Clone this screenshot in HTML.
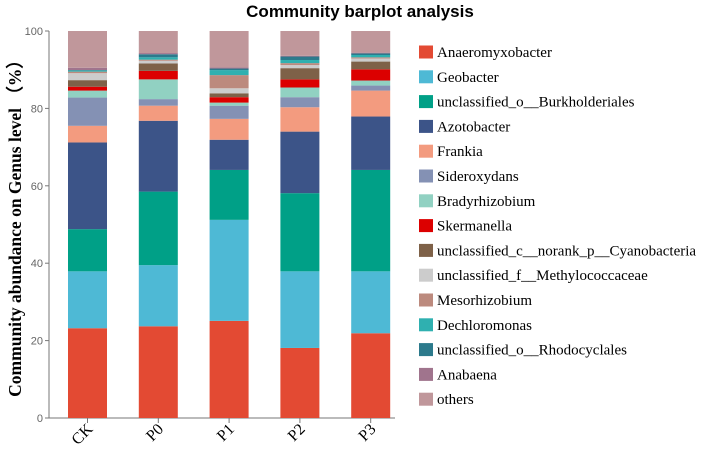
<!DOCTYPE html>
<html><head><meta charset="utf-8"><style>
body{margin:0;background:#fff;width:724px;height:446px;overflow:hidden}
svg text{font-family:"Liberation Serif",serif}
</style></head><body>
<svg id="chart" width="724" height="446" xmlns="http://www.w3.org/2000/svg">
<text x="360" y="17" text-anchor="middle" style="font-family:'Liberation Sans',sans-serif;font-weight:bold;font-size:17px">Community barplot analysis</text>
<text transform="translate(21,224) rotate(-90)" text-anchor="middle" style="font-weight:bold;font-size:17.5px">Community abundance on Genus level （%）</text>
<g id="axes"></g><g id="bars"></g><g id="legend"></g>
</svg>
<script>
const categories=["CK","P0","P1","P2","P3"];
const genera=["Anaeromyxobacter","Geobacter","unclassified_o__Burkholderiales","Azotobacter","Frankia","Sideroxydans","Bradyrhizobium","Skermanella","unclassified_c__norank_p__Cyanobacteria","unclassified_f__Methylococcaceae","Mesorhizobium","Dechloromonas","unclassified_o__Rhodocyclales","Anabaena","others"];
const colors=["#E34A33","#4EB9D5","#00A087","#3C5488","#F39B7F","#8491B4","#91D1C2","#DC0000","#7E6148","#CCCCCC","#BC8A7E","#2FB0B0","#2C7A8C","#A0748D","#C0979B"];
const valCK=[23.2,14.7,10.9,22.4,4.3,7.3,1.8,1.0,1.7,1.8,0.4,0.3,0.1,0.6,9.5];
const valP0=[23.7,15.8,19.0,18.3,3.9,1.7,5.1,2.2,1.9,0.7,0.3,0.6,0.8,0.3,5.7];
const valP1=[25.1,26.1,12.9,7.8,5.4,3.4,0.8,1.4,1.0,1.3,3.4,1.3,0.4,0.3,9.4];
const valP2=[18.1,19.8,20.2,15.9,6.3,2.6,2.5,2.1,2.9,0.8,0.5,0.8,0.9,0.2,6.4];
const valP3=[21.9,16.0,26.2,13.8,6.7,1.3,1.3,2.9,2.0,0.8,0.3,0.6,0.4,0.2,5.6];
const series=[valCK,valP0,valP1,valP2,valP3];
const yTicks=[0,20,40,60,80,100];
const NS="http://www.w3.org/2000/svg";
const y0=418,y1=31;
const yS=v=>y0-(v/100)*(y0-y1);
const xS=i=>68+i*70.8;
const bw=39;
function mk(t,a,p){const e=document.createElementNS(NS,t);for(const k in a)e.setAttribute(k,a[k]);p.appendChild(e);return e;}
const axes=document.getElementById('axes');
const ya=mk('line',{x1:49,y1:y1,x2:49,y2:y0,stroke:'#777','stroke-width':1},axes);


const xa=mk('line',{x1:49,y1:y0,x2:395,y2:y0,stroke:'#777','stroke-width':1},axes);


yTicks.forEach(t=>{
 mk('line',{x1:45,x2:49,y1:yS(t),y2:yS(t),stroke:'#777'},axes);
 const tx=mk('text',{x:43,y:yS(t)+4,'text-anchor':'end','font-size':'11',fill:'#666',style:"font-family:'Liberation Sans',sans-serif"},axes);
 tx.textContent=t;
 
 
});
const bars=document.getElementById('bars');
categories.forEach((c,i)=>{
 let cum=0;
 series[i].forEach((v,j)=>{
  const r=mk('rect',{x:xS(i),y:yS(cum+v),width:bw,height:yS(cum)-yS(cum+v),fill:colors[j]},bars);
  
  
  cum+=v;
 });
 const cx=xS(i)+bw/2;
 mk('line',{x1:cx,x2:cx,y1:y0,y2:y0+5,stroke:'#777'},axes);
 const t=mk('text',{transform:`translate(${cx+6},${y0+12}) rotate(-45)`,'text-anchor':'end','font-size':'16'},axes);
 t.textContent=c;
 
 
});
const lg=document.getElementById('legend');
genera.forEach((g,j)=>{
 const y=52+j*24.8;
 const gg=mk('g',{},lg);
 
 
 mk('rect',{x:419,y:y-6.5,width:14,height:13,fill:colors[j]},gg);
 const t=mk('text',{x:437,y:y+5,'font-size':'15'},gg);
 t.textContent=g;
});
</script>
</body></html>
